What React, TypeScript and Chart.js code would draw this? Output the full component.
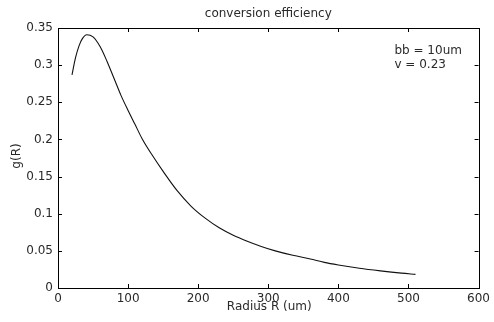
import React, { useEffect, useRef } from "react";
import { Chart, registerables } from "chart.js";

Chart.register(...registerables);

const radius = [20, 25, 30, 35, 41, 50, 60, 70, 80, 90, 100, 110, 120, 135, 150, 170, 190, 210, 230, 250, 270, 290, 310, 335, 360, 380, 400, 430, 460, 490, 510];
const gValues = [0.287, 0.310, 0.326, 0.336, 0.341, 0.338, 0.325, 0.305, 0.282, 0.259, 0.239, 0.220, 0.201, 0.178, 0.157, 0.131, 0.110, 0.094, 0.081, 0.071, 0.063, 0.056, 0.050, 0.044, 0.039, 0.0345, 0.031, 0.0265, 0.023, 0.020, 0.0184];
const xTicks = [0, 100, 200, 300, 400, 500, 600];
const yTicks = [0, 0.05, 0.1, 0.15, 0.2, 0.25, 0.3, 0.35];
const titleText = "conversion efficiency";
const xTitle = "Radius R (um)";
const yTitle = "g(R)";
const noteLines = ["bb = 10um", "v = 0.23"];

const FONT = "'DejaVu Sans', sans-serif";
const TEXT = "#2a2a2a";

const framePlugin = {
  id: "framePlugin",
  afterDraw(chart: any) {
    const { ctx, chartArea: a, scales } = chart;
    const xs = scales.x;
    const ys = scales.y;
    ctx.save();
    ctx.strokeStyle = "#000";
    ctx.lineWidth = 1;
    ctx.strokeRect(Math.round(a.left) + 0.5, Math.round(a.top) + 0.5, Math.round(a.right - a.left), Math.round(a.bottom - a.top));
    const tl = 4;
    ctx.beginPath();
    xTicks.forEach((v) => {
      const px = Math.round(xs.getPixelForValue(v)) + 0.5;
      ctx.moveTo(px, a.bottom);
      ctx.lineTo(px, a.bottom - tl);
      ctx.moveTo(px, a.top);
      ctx.lineTo(px, a.top + tl);
    });
    yTicks.forEach((v) => {
      const py = Math.round(ys.getPixelForValue(v)) + 0.5;
      ctx.moveTo(a.left, py);
      ctx.lineTo(a.left + tl, py);
      ctx.moveTo(a.right, py);
      ctx.lineTo(a.right - tl, py);
    });
    ctx.stroke();

    ctx.fillStyle = TEXT;
    ctx.font = `12px ${FONT}`;
    ctx.textAlign = "center";
    ctx.textBaseline = "middle";
    ctx.fillText(titleText, (a.left + a.right) / 2, 14);
    ctx.fillText(xTitle, (a.left + a.right) / 2 + 1, 307);
    ctx.save();
    ctx.translate(17, (a.top + a.bottom) / 2 - 2);
    ctx.rotate(-Math.PI / 2);
    ctx.fillText(yTitle, 0, 0);
    ctx.restore();

    ctx.textAlign = "left";
    ctx.fillText(noteLines[0], xs.getPixelForValue(480), ys.getPixelForValue(0.319));
    ctx.fillText(noteLines[1], xs.getPixelForValue(480), ys.getPixelForValue(0.301));
    ctx.restore();
  },
};

export default function App() {
  const ref = useRef<HTMLCanvasElement | null>(null);
  useEffect(() => {
    document.body.style.margin = "0";
    const canvas = ref.current;
    if (!canvas) return;
    const chart = new Chart(canvas, {
      type: "line",
      data: {
        datasets: [
          {
            data: radius.map((r, i) => ({ x: r, y: gValues[i] })),
            borderColor: "#111",
            borderWidth: 1.1,
            pointRadius: 0,
            fill: false,
            cubicInterpolationMode: "monotone",
          },
        ],
      },
      options: {
        animation: false,
        responsive: false,
        maintainAspectRatio: false,
        layout: { padding: { top: 28, right: 12, left: 0, bottom: 0 } },
        plugins: {
          legend: { display: false },
          title: { display: false },
          tooltip: { enabled: false },
        },
        scales: {
          x: {
            type: "linear",
            min: 0,
            max: 600,
            afterBuildTicks: (s: any) => {
              s.ticks = xTicks.map((v) => ({ value: v }));
            },
            afterFit: (s: any) => {
              s.height = 34;
            },
            grid: { display: false, drawTicks: false },
            border: { display: false },
            ticks: {
              padding: 4,
              color: TEXT,
              font: { family: FONT, size: 12 },
              maxRotation: 0,
              autoSkip: false,
              callback: (v: any) => String(v),
            },
          },
          y: {
            type: "linear",
            min: 0,
            max: 0.35,
            afterBuildTicks: (s: any) => {
              s.ticks = yTicks.map((v) => ({ value: v }));
            },
            afterFit: (s: any) => {
              s.width = 58;
            },
            grid: { display: false, drawTicks: false },
            border: { display: false },
            ticks: {
              padding: 5,
              color: TEXT,
              font: { family: FONT, size: 12 },
              autoSkip: false,
              callback: (v: any) => String(Math.round(Number(v) * 100) / 100),
            },
          },
        },
      },
      plugins: [framePlugin],
    } as any);
    return () => chart.destroy();
  }, []);
  return (
    <div style={{ position: "relative", width: 494, height: 322 }}>
      <canvas ref={ref} width={494} height={322} style={{ display: "block", width: 494, height: 322 }} />
    </div>
  );
}
